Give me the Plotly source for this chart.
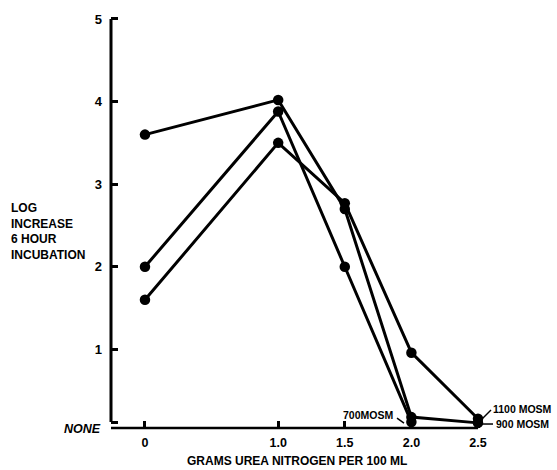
import plotly.graph_objects as go

# ---- data ----
tick_x = [0, 1.0, 1.5, 2.0, 2.5]
tick_x_text = ["0", "1.0", "1.5", "2.0", "2.5"]
tick_y = [0.12, 1, 2, 3, 4, 5]
tick_y_text = ["", "1", "2", "3", "4", "5"]

s700_x = [0, 1.0, 1.5, 2.0]
s700_y = [2.0, 3.88, 2.0, 0.12]
s900_x = [0, 1.0, 1.5, 2.0, 2.5]
s900_y = [3.6, 4.02, 2.70, 0.18, 0.11]
s1100_x = [0, 1.0, 1.5, 2.0, 2.5]
s1100_y = [1.6, 3.5, 2.77, 0.96, 0.16]

series = [("700MOSM", s700_x, s700_y), ("900 MOSM", s900_x, s900_y), ("1100 MOSM", s1100_x, s1100_y)]

# ---- layout geometry (pixels) ----
W_FIG, H_FIG = 557, 470
L, T, W, H = 111, 14, 371, 414
FONT = "Liberation Sans, Arial, Helvetica, sans-serif"


def px(xp):
    return (xp - L) / W


def py(yp):
    return (T + H - yp) / H


fig = go.Figure()
for name, xs, ys in series:
    fig.add_trace(go.Scatter(
        x=xs, y=ys, mode="lines+markers", name=name,
        line=dict(color="black", width=3),
        marker=dict(color="black", size=10.5),
        cliponaxis=False, showlegend=False, hoverinfo="skip",
    ))

shapes = [
    # y axis line
    dict(type="line", xref="paper", yref="y", x0=0, x1=0, y0=0.12, y1=5,
         line=dict(color="black", width=3)),
    # x axis line
    dict(type="line", xref="x", yref="paper", x0=-0.255, x1=2.5, y0=0, y1=0,
         line=dict(color="black", width=2.5)),
    # leaders
    dict(type="line", xref="paper", yref="paper", x0=px(482), y0=py(419), x1=px(491), y1=py(410),
         line=dict(color="black", width=1.5)),
    dict(type="line", xref="paper", yref="paper", x0=px(481), y0=py(424), x1=px(493), y1=py(424),
         line=dict(color="black", width=1.5)),
    dict(type="line", xref="paper", yref="paper", x0=px(397), y0=py(418), x1=px(404), y1=py(423),
         line=dict(color="black", width=1.5)),
]

bold = dict(family=FONT, color="black", weight=700)
annotations = [
    dict(text="<i>NONE</i>", xref="paper", yref="paper", x=px(103), y=py(429),
         xanchor="right", yanchor="middle", showarrow=False, font=dict(bold, size=12.5)),
    dict(text="LOG<br>INCREASE<br>6 HOUR<br>INCUBATION", xref="paper", yref="paper",
         x=px(9), y=py(231), xanchor="left", yanchor="middle", align="left",
         showarrow=False, font=dict(bold, size=12)),
    dict(text="GRAMS UREA NITROGEN PER 100 ML", xref="paper", yref="paper",
         x=px(297), y=py(461), xanchor="center", yanchor="middle", showarrow=False,
         font=dict(bold, size=12)),
    dict(text="1100 MOSM", xref="paper", yref="paper", x=px(491), y=py(409),
         xanchor="left", yanchor="middle", showarrow=False, font=dict(bold, size=10.5)),
    dict(text="900 MOSM", xref="paper", yref="paper", x=px(494), y=py(424),
         xanchor="left", yanchor="middle", showarrow=False, font=dict(bold, size=10.5)),
    dict(text="700MOSM", xref="paper", yref="paper", x=px(395), y=py(415),
         xanchor="right", yanchor="middle", showarrow=False, font=dict(bold, size=10.5)),
]

fig.update_layout(
    width=W_FIG, height=H_FIG,
    margin=dict(l=L, r=W_FIG - L - W, t=T, b=H_FIG - T - H, pad=0),
    paper_bgcolor="white", plot_bgcolor="white",
    shapes=shapes, annotations=annotations, hovermode=False,
    xaxis=dict(range=[-0.255, 2.53], tickvals=tick_x, ticktext=tick_x_text,
               ticks="inside", ticklen=7, tickwidth=2.5, tickcolor="black",
               showline=False, showgrid=False, zeroline=False,
               tickfont=dict(bold, size=12.5), ticklabelstandoff=5),
    yaxis=dict(range=[0.048, 5.036], tickvals=tick_y, ticktext=tick_y_text,
               ticks="inside", ticklen=7, tickwidth=2.5, tickcolor="black",
               showline=False, showgrid=False, zeroline=False,
               tickfont=dict(bold, size=13), ticklabelstandoff=8),
)

fig.write_html(
    "out.html",
    config={"displayModeBar": False},
    post_script="document.body.style.margin='0px';document.body.style.padding='0px';"
                "document.body.style.overflow='hidden';",
)
